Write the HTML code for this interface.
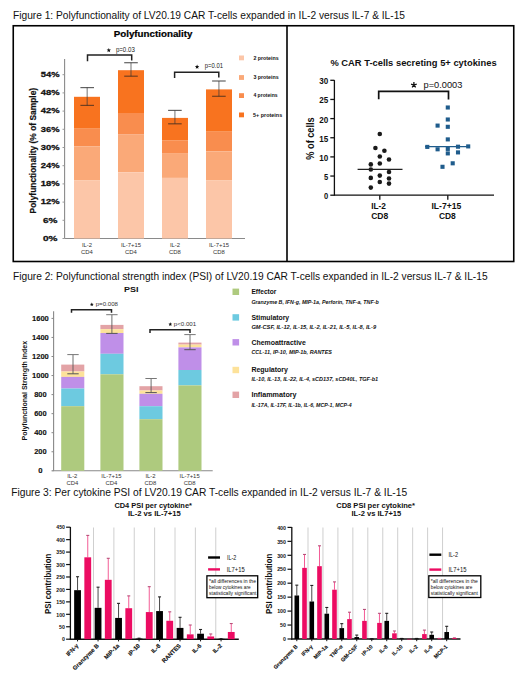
<!DOCTYPE html>
<html><head><meta charset="utf-8"><title>Figures</title>
<style>
html,body{margin:0;padding:0;background:#fff;}
body{width:520px;height:685px;overflow:hidden;font-family:"Liberation Sans", sans-serif;}
svg{display:block;}
svg text{font-family:"Liberation Sans", sans-serif;}
</style></head><body>
<svg width="520" height="685" viewBox="0 0 520 685" shape-rendering="auto">
<rect width="520" height="685" fill="#fff"/>
<text x="13" y="18.7" font-size="10.2" font-weight="normal" text-anchor="start" fill="#111" textLength="392" lengthAdjust="spacingAndGlyphs">Figure 1: Polyfunctionality of LV20.19 CAR T-cells expanded in IL-2 versus IL-7 &amp; IL-15</text>
<text x="13" y="279.6" font-size="10.2" font-weight="normal" text-anchor="start" fill="#111" textLength="474.6" lengthAdjust="spacingAndGlyphs">Figure 2: Polyfunctional strength index (PSI) of LV20.19 CAR T-cells expanded in IL-2 versus IL-7 &amp; IL-15</text>
<text x="11.2" y="495.7" font-size="10.2" font-weight="normal" text-anchor="start" fill="#111" textLength="396" lengthAdjust="spacingAndGlyphs">Figure 3: Per cytokine PSI of LV20.19 CAR T-cells expanded in IL-2 versus IL-7 &amp; IL-15</text>
<rect x="13.25" y="25.75" width="500.5" height="235.75" fill="none" stroke="#000" stroke-width="1.6"/>
<line x1="287.00" y1="25.75" x2="287.00" y2="261.50" stroke="#000" stroke-width="1.6"/>
<text x="113.7" y="37.2" font-size="9.4" font-weight="bold" text-anchor="start" fill="#000" textLength="78.8" lengthAdjust="spacingAndGlyphs" stroke="#000" stroke-width="0.2">Polyfunctionality</text>
<line x1="64.60" y1="59.00" x2="64.60" y2="238.50" stroke="#8a8a8a" stroke-width="1.1"/>
<line x1="64.60" y1="238.50" x2="245.00" y2="238.50" stroke="#8a8a8a" stroke-width="1.1"/>
<line x1="62.50" y1="238.50" x2="64.60" y2="238.50" stroke="#999" stroke-width="1"/>
<text x="50.2" y="240.7" font-size="8.1" font-weight="bold" text-anchor="middle" fill="#111" textLength="14.5" lengthAdjust="spacingAndGlyphs" stroke="#111" stroke-width="0.3">0%</text>
<line x1="62.50" y1="220.30" x2="64.60" y2="220.30" stroke="#999" stroke-width="1"/>
<text x="50.2" y="222.5" font-size="8.1" font-weight="bold" text-anchor="middle" fill="#111" textLength="14.5" lengthAdjust="spacingAndGlyphs" stroke="#111" stroke-width="0.3">6%</text>
<line x1="62.50" y1="202.10" x2="64.60" y2="202.10" stroke="#999" stroke-width="1"/>
<text x="50.2" y="204.29999999999998" font-size="8.1" font-weight="bold" text-anchor="middle" fill="#111" textLength="18.8" lengthAdjust="spacingAndGlyphs" stroke="#111" stroke-width="0.3">12%</text>
<line x1="62.50" y1="183.90" x2="64.60" y2="183.90" stroke="#999" stroke-width="1"/>
<text x="50.2" y="186.1" font-size="8.1" font-weight="bold" text-anchor="middle" fill="#111" textLength="18.8" lengthAdjust="spacingAndGlyphs" stroke="#111" stroke-width="0.3">18%</text>
<line x1="62.50" y1="165.70" x2="64.60" y2="165.70" stroke="#999" stroke-width="1"/>
<text x="50.2" y="167.89999999999998" font-size="8.1" font-weight="bold" text-anchor="middle" fill="#111" textLength="18.8" lengthAdjust="spacingAndGlyphs" stroke="#111" stroke-width="0.3">24%</text>
<line x1="62.50" y1="147.50" x2="64.60" y2="147.50" stroke="#999" stroke-width="1"/>
<text x="50.2" y="149.7" font-size="8.1" font-weight="bold" text-anchor="middle" fill="#111" textLength="18.8" lengthAdjust="spacingAndGlyphs" stroke="#111" stroke-width="0.3">30%</text>
<line x1="62.50" y1="129.30" x2="64.60" y2="129.30" stroke="#999" stroke-width="1"/>
<text x="50.2" y="131.5" font-size="8.1" font-weight="bold" text-anchor="middle" fill="#111" textLength="18.8" lengthAdjust="spacingAndGlyphs" stroke="#111" stroke-width="0.3">36%</text>
<line x1="62.50" y1="111.10" x2="64.60" y2="111.10" stroke="#999" stroke-width="1"/>
<text x="50.2" y="113.30000000000001" font-size="8.1" font-weight="bold" text-anchor="middle" fill="#111" textLength="18.8" lengthAdjust="spacingAndGlyphs" stroke="#111" stroke-width="0.3">42%</text>
<line x1="62.50" y1="92.90" x2="64.60" y2="92.90" stroke="#999" stroke-width="1"/>
<text x="50.2" y="95.10000000000001" font-size="8.1" font-weight="bold" text-anchor="middle" fill="#111" textLength="18.8" lengthAdjust="spacingAndGlyphs" stroke="#111" stroke-width="0.3">48%</text>
<line x1="62.50" y1="74.70" x2="64.60" y2="74.70" stroke="#999" stroke-width="1"/>
<text x="50.2" y="76.90000000000002" font-size="8.1" font-weight="bold" text-anchor="middle" fill="#111" textLength="18.8" lengthAdjust="spacingAndGlyphs" stroke="#111" stroke-width="0.3">54%</text>
<text transform="translate(35.8,213.4) rotate(-90)" font-size="9" font-weight="bold" fill="#111" stroke="#111" stroke-width="0.2" textLength="125.5" lengthAdjust="spacingAndGlyphs">Polyfunctionality (% of Sample)</text>
<rect x="74.00" y="96.80" width="26.00" height="31.90" fill="#F8731F"/>
<rect x="74.00" y="128.70" width="26.00" height="17.60" fill="#F98D4E"/>
<rect x="74.00" y="146.30" width="26.00" height="34.20" fill="#FAA978"/>
<rect x="74.00" y="180.50" width="26.00" height="58.00" fill="#FCC6A8"/>
<rect x="118.00" y="70.20" width="26.00" height="42.80" fill="#F8731F"/>
<rect x="118.00" y="113.00" width="26.00" height="21.60" fill="#F98D4E"/>
<rect x="118.00" y="134.60" width="26.00" height="37.70" fill="#FAA978"/>
<rect x="118.00" y="172.30" width="26.00" height="66.20" fill="#FCC6A8"/>
<rect x="162.00" y="117.90" width="26.00" height="22.30" fill="#F8731F"/>
<rect x="162.00" y="140.20" width="26.00" height="13.50" fill="#F98D4E"/>
<rect x="162.00" y="153.70" width="26.00" height="24.20" fill="#FAA978"/>
<rect x="162.00" y="177.90" width="26.00" height="60.60" fill="#FCC6A8"/>
<rect x="206.00" y="89.40" width="26.00" height="42.30" fill="#F8731F"/>
<rect x="206.00" y="131.70" width="26.00" height="19.70" fill="#F98D4E"/>
<rect x="206.00" y="151.40" width="26.00" height="29.10" fill="#FAA978"/>
<rect x="206.00" y="180.50" width="26.00" height="58.00" fill="#FCC6A8"/>
<line x1="87.20" y1="87.60" x2="87.20" y2="105.40" stroke="#3a3a3a" stroke-width="1.3" stroke-opacity="0.55"/>
<line x1="80.40" y1="87.60" x2="94.00" y2="87.60" stroke="#3a3a3a" stroke-width="1.2" stroke-opacity="0.8"/>
<line x1="80.40" y1="105.40" x2="94.00" y2="105.40" stroke="#3a2a20" stroke-width="1.2" stroke-opacity="0.7"/>
<line x1="131.00" y1="62.70" x2="131.00" y2="76.20" stroke="#3a3a3a" stroke-width="1.3" stroke-opacity="0.55"/>
<line x1="124.20" y1="62.70" x2="137.80" y2="62.70" stroke="#3a3a3a" stroke-width="1.2" stroke-opacity="0.8"/>
<line x1="124.20" y1="76.20" x2="137.80" y2="76.20" stroke="#3a2a20" stroke-width="1.2" stroke-opacity="0.7"/>
<line x1="174.90" y1="110.40" x2="174.90" y2="123.80" stroke="#3a3a3a" stroke-width="1.3" stroke-opacity="0.55"/>
<line x1="168.10" y1="110.40" x2="181.70" y2="110.40" stroke="#3a3a3a" stroke-width="1.2" stroke-opacity="0.8"/>
<line x1="168.10" y1="123.80" x2="181.70" y2="123.80" stroke="#3a2a20" stroke-width="1.2" stroke-opacity="0.7"/>
<line x1="218.90" y1="81.00" x2="218.90" y2="96.30" stroke="#3a3a3a" stroke-width="1.3" stroke-opacity="0.55"/>
<line x1="212.10" y1="81.00" x2="225.70" y2="81.00" stroke="#3a3a3a" stroke-width="1.2" stroke-opacity="0.8"/>
<line x1="212.10" y1="96.30" x2="225.70" y2="96.30" stroke="#3a2a20" stroke-width="1.2" stroke-opacity="0.7"/>
<path d="M87.5,61.2 V55 H131.7 V60.5" fill="none" stroke="#222" stroke-width="1.5"/>
<path d="M174.6,78 V72.3 H218.8 V77.6" fill="none" stroke="#222" stroke-width="1.5"/>
<polygon points="108.80,48.00 109.41,49.46 110.99,49.59 109.78,50.62 110.15,52.16 108.80,51.33 107.45,52.16 107.82,50.62 106.61,49.59 108.19,49.46" fill="#111"/>
<text x="115.9" y="51.6" font-size="6.9" font-weight="normal" text-anchor="start" fill="#222" textLength="18.9" lengthAdjust="spacingAndGlyphs">p=0.03</text>
<polygon points="197.10,64.60 197.71,66.06 199.29,66.19 198.08,67.22 198.45,68.76 197.10,67.94 195.75,68.76 196.12,67.22 194.91,66.19 196.49,66.06" fill="#111"/>
<text x="204.8" y="68.3" font-size="6.9" font-weight="normal" text-anchor="start" fill="#222" textLength="18.2" lengthAdjust="spacingAndGlyphs">p=0.01</text>
<rect x="239.00" y="55.50" width="5.00" height="4.80" fill="#FCC6A8"/>
<text x="253.4" y="59.699999999999996" font-size="5.3" font-weight="bold" text-anchor="start" fill="#111" textLength="25.3" lengthAdjust="spacingAndGlyphs">2 proteins</text>
<rect x="239.00" y="75.10" width="5.00" height="4.80" fill="#FAA978"/>
<text x="253.4" y="79.3" font-size="5.3" font-weight="bold" text-anchor="start" fill="#111" textLength="25.3" lengthAdjust="spacingAndGlyphs">3 proteins</text>
<rect x="239.00" y="93.20" width="5.00" height="4.80" fill="#F98D4E"/>
<text x="253.4" y="97.39999999999999" font-size="5.3" font-weight="bold" text-anchor="start" fill="#111" textLength="24.2" lengthAdjust="spacingAndGlyphs">4 proteins</text>
<rect x="239.00" y="112.50" width="5.00" height="4.80" fill="#F8731F"/>
<text x="253.1" y="116.7" font-size="5.3" font-weight="bold" text-anchor="start" fill="#111" textLength="29.1" lengthAdjust="spacingAndGlyphs">5+ proteins</text>
<text x="87" y="246.7" font-size="5.9" font-weight="normal" text-anchor="middle" fill="#333">IL-2</text>
<text x="87" y="254.0" font-size="5.9" font-weight="normal" text-anchor="middle" fill="#333">CD4</text>
<text x="131" y="246.7" font-size="5.9" font-weight="normal" text-anchor="middle" fill="#333">IL-7+15</text>
<text x="131" y="254.0" font-size="5.9" font-weight="normal" text-anchor="middle" fill="#333">CD4</text>
<text x="175" y="246.7" font-size="5.9" font-weight="normal" text-anchor="middle" fill="#333">IL-2</text>
<text x="175" y="254.0" font-size="5.9" font-weight="normal" text-anchor="middle" fill="#333">CD8</text>
<text x="219" y="246.7" font-size="5.9" font-weight="normal" text-anchor="middle" fill="#333">IL-7+15</text>
<text x="219" y="254.0" font-size="5.9" font-weight="normal" text-anchor="middle" fill="#333">CD8</text>
<text x="330.4" y="66.4" font-size="9.45" font-weight="bold" text-anchor="start" fill="#111" textLength="166.2" lengthAdjust="spacingAndGlyphs">% CAR T-cells secreting 5+ cytokines</text>
<line x1="334.40" y1="80.10" x2="334.40" y2="195.80" stroke="#111" stroke-width="1.3"/>
<line x1="334.40" y1="195.20" x2="494.00" y2="195.20" stroke="#111" stroke-width="1.3"/>
<line x1="330.30" y1="195.20" x2="334.40" y2="195.20" stroke="#111" stroke-width="1.3"/>
<text x="328.2" y="199.2" font-size="8.3" font-weight="bold" text-anchor="end" fill="#111" textLength="4.2" lengthAdjust="spacingAndGlyphs">0</text>
<line x1="330.30" y1="176.05" x2="334.40" y2="176.05" stroke="#111" stroke-width="1.3"/>
<text x="328.2" y="180.04999999999998" font-size="8.3" font-weight="bold" text-anchor="end" fill="#111" textLength="4.2" lengthAdjust="spacingAndGlyphs">5</text>
<line x1="330.30" y1="156.90" x2="334.40" y2="156.90" stroke="#111" stroke-width="1.3"/>
<text x="328.2" y="160.89999999999998" font-size="8.3" font-weight="bold" text-anchor="end" fill="#111" textLength="9.0" lengthAdjust="spacingAndGlyphs">10</text>
<line x1="330.30" y1="137.75" x2="334.40" y2="137.75" stroke="#111" stroke-width="1.3"/>
<text x="328.2" y="141.75" font-size="8.3" font-weight="bold" text-anchor="end" fill="#111" textLength="9.0" lengthAdjust="spacingAndGlyphs">15</text>
<line x1="330.30" y1="118.60" x2="334.40" y2="118.60" stroke="#111" stroke-width="1.3"/>
<text x="328.2" y="122.6" font-size="8.3" font-weight="bold" text-anchor="end" fill="#111" textLength="9.0" lengthAdjust="spacingAndGlyphs">20</text>
<line x1="330.30" y1="99.45" x2="334.40" y2="99.45" stroke="#111" stroke-width="1.3"/>
<text x="328.2" y="103.45" font-size="8.3" font-weight="bold" text-anchor="end" fill="#111" textLength="9.0" lengthAdjust="spacingAndGlyphs">25</text>
<line x1="330.30" y1="80.30" x2="334.40" y2="80.30" stroke="#111" stroke-width="1.3"/>
<text x="328.2" y="84.3" font-size="8.3" font-weight="bold" text-anchor="end" fill="#111" textLength="9.0" lengthAdjust="spacingAndGlyphs">30</text>
<line x1="379.80" y1="195.20" x2="379.80" y2="199.80" stroke="#111" stroke-width="1.3"/>
<line x1="447.80" y1="195.20" x2="447.80" y2="199.80" stroke="#111" stroke-width="1.3"/>
<text transform="translate(313.7,159.7) rotate(-90)" font-size="10.2" font-weight="bold" fill="#111" textLength="42.4" lengthAdjust="spacingAndGlyphs">% of cells</text>
<text x="378.6" y="208.6" font-size="8.6" font-weight="bold" text-anchor="middle" fill="#111" textLength="14.8" lengthAdjust="spacingAndGlyphs">IL-2</text>
<text x="379.75" y="218.5" font-size="8.6" font-weight="bold" text-anchor="middle" fill="#111" textLength="17.1" lengthAdjust="spacingAndGlyphs">CD8</text>
<text x="446.35" y="208.9" font-size="8.6" font-weight="bold" text-anchor="middle" fill="#111" textLength="29.7" lengthAdjust="spacingAndGlyphs">IL-7+15</text>
<text x="447.35" y="218.5" font-size="8.6" font-weight="bold" text-anchor="middle" fill="#111" textLength="16.9" lengthAdjust="spacingAndGlyphs">CD8</text>
<path d="M378.7,99.3 V91.4 H448.5 V99.5" fill="none" stroke="#111" stroke-width="1.7"/>
<path d="M413.90,85.00 L413.90,82.00 M413.90,85.00 L416.75,84.07 M413.90,85.00 L415.66,87.43 M413.90,85.00 L412.14,87.43 M413.90,85.00 L411.05,84.07 " stroke="#111" stroke-width="1.3" stroke-linecap="butt" fill="none"/>
<text x="423.5" y="87.9" font-size="9.9" font-weight="normal" text-anchor="start" fill="#111" textLength="38.8" lengthAdjust="spacingAndGlyphs">p=0.0003</text>
<circle cx="379.8" cy="134.0" r="2.3" fill="#1a1a1a"/>
<circle cx="375.4" cy="148.0" r="2.3" fill="#1a1a1a"/>
<circle cx="384.4" cy="150.8" r="2.3" fill="#1a1a1a"/>
<circle cx="379.8" cy="156.5" r="2.3" fill="#1a1a1a"/>
<circle cx="389.0" cy="159.5" r="2.3" fill="#1a1a1a"/>
<circle cx="370.8" cy="164.4" r="2.3" fill="#1a1a1a"/>
<circle cx="379.8" cy="163.5" r="2.3" fill="#1a1a1a"/>
<circle cx="370.8" cy="169.5" r="2.3" fill="#1a1a1a"/>
<circle cx="389.0" cy="172.0" r="2.3" fill="#1a1a1a"/>
<circle cx="370.8" cy="177.9" r="2.3" fill="#1a1a1a"/>
<circle cx="379.8" cy="175.6" r="2.3" fill="#1a1a1a"/>
<circle cx="389.0" cy="178.5" r="2.3" fill="#1a1a1a"/>
<circle cx="379.8" cy="182.0" r="2.3" fill="#1a1a1a"/>
<circle cx="389.0" cy="183.6" r="2.3" fill="#1a1a1a"/>
<circle cx="370.8" cy="187.6" r="2.3" fill="#1a1a1a"/>
<line x1="357.60" y1="169.40" x2="402.50" y2="169.40" stroke="#222" stroke-width="1.2"/>
<rect x="445.75" y="105.45" width="4.10" height="4.10" fill="#1F5C8C"/>
<rect x="445.75" y="117.45" width="4.10" height="4.10" fill="#1F5C8C"/>
<rect x="435.55" y="123.55" width="4.10" height="4.10" fill="#1F5C8C"/>
<rect x="445.75" y="124.75" width="4.10" height="4.10" fill="#1F5C8C"/>
<rect x="445.75" y="137.35" width="4.10" height="4.10" fill="#1F5C8C"/>
<rect x="425.25" y="144.85" width="4.10" height="4.10" fill="#1F5C8C"/>
<rect x="435.55" y="147.25" width="4.10" height="4.10" fill="#1F5C8C"/>
<rect x="445.75" y="146.85" width="4.10" height="4.10" fill="#1F5C8C"/>
<rect x="455.95" y="144.65" width="4.10" height="4.10" fill="#1F5C8C"/>
<rect x="466.15" y="144.35" width="4.10" height="4.10" fill="#1F5C8C"/>
<rect x="445.75" y="151.35" width="4.10" height="4.10" fill="#1F5C8C"/>
<rect x="455.95" y="150.35" width="4.10" height="4.10" fill="#1F5C8C"/>
<rect x="450.65" y="161.25" width="4.10" height="4.10" fill="#1F5C8C"/>
<rect x="440.45" y="164.75" width="4.10" height="4.10" fill="#1F5C8C"/>
<line x1="425.00" y1="146.60" x2="470.00" y2="146.60" stroke="#1F5C8C" stroke-width="1.2"/>
<text x="124" y="291.9" font-size="7.6" font-weight="bold" text-anchor="start" fill="#111" textLength="14.5" lengthAdjust="spacingAndGlyphs">PSI</text>
<line x1="53.60" y1="311.30" x2="53.60" y2="470.80" stroke="#888" stroke-width="1.1"/>
<line x1="52.50" y1="470.80" x2="212.70" y2="470.80" stroke="#888" stroke-width="1.1"/>
<line x1="51.50" y1="470.80" x2="53.60" y2="470.80" stroke="#888" stroke-width="1"/>
<text x="40.4" y="473.3" font-size="7.3" font-weight="bold" text-anchor="middle" fill="#111" textLength="4.3" lengthAdjust="spacingAndGlyphs" stroke="#111" stroke-width="0.12">0</text>
<line x1="51.50" y1="451.75" x2="53.60" y2="451.75" stroke="#888" stroke-width="1"/>
<text x="40.4" y="454.25" font-size="7.3" font-weight="bold" text-anchor="middle" fill="#111" textLength="12.5" lengthAdjust="spacingAndGlyphs" stroke="#111" stroke-width="0.12">200</text>
<line x1="51.50" y1="432.70" x2="53.60" y2="432.70" stroke="#888" stroke-width="1"/>
<text x="40.4" y="435.2" font-size="7.3" font-weight="bold" text-anchor="middle" fill="#111" textLength="12.5" lengthAdjust="spacingAndGlyphs" stroke="#111" stroke-width="0.12">400</text>
<line x1="51.50" y1="413.65" x2="53.60" y2="413.65" stroke="#888" stroke-width="1"/>
<text x="40.4" y="416.15000000000003" font-size="7.3" font-weight="bold" text-anchor="middle" fill="#111" textLength="12.5" lengthAdjust="spacingAndGlyphs" stroke="#111" stroke-width="0.12">600</text>
<line x1="51.50" y1="394.60" x2="53.60" y2="394.60" stroke="#888" stroke-width="1"/>
<text x="40.4" y="397.1" font-size="7.3" font-weight="bold" text-anchor="middle" fill="#111" textLength="12.5" lengthAdjust="spacingAndGlyphs" stroke="#111" stroke-width="0.12">800</text>
<line x1="51.50" y1="375.55" x2="53.60" y2="375.55" stroke="#888" stroke-width="1"/>
<text x="40.4" y="378.05" font-size="7.3" font-weight="bold" text-anchor="middle" fill="#111" textLength="16.8" lengthAdjust="spacingAndGlyphs" stroke="#111" stroke-width="0.12">1000</text>
<line x1="51.50" y1="356.50" x2="53.60" y2="356.50" stroke="#888" stroke-width="1"/>
<text x="40.4" y="359.0" font-size="7.3" font-weight="bold" text-anchor="middle" fill="#111" textLength="16.8" lengthAdjust="spacingAndGlyphs" stroke="#111" stroke-width="0.12">1200</text>
<line x1="51.50" y1="337.45" x2="53.60" y2="337.45" stroke="#888" stroke-width="1"/>
<text x="40.4" y="339.95000000000005" font-size="7.3" font-weight="bold" text-anchor="middle" fill="#111" textLength="16.8" lengthAdjust="spacingAndGlyphs" stroke="#111" stroke-width="0.12">1400</text>
<line x1="51.50" y1="318.40" x2="53.60" y2="318.40" stroke="#888" stroke-width="1"/>
<text x="40.4" y="320.9" font-size="7.3" font-weight="bold" text-anchor="middle" fill="#111" textLength="16.8" lengthAdjust="spacingAndGlyphs" stroke="#111" stroke-width="0.12">1600</text>
<text transform="translate(26.9,440.5) rotate(-90)" font-size="7.9" font-weight="bold" fill="#111" textLength="99.6" lengthAdjust="spacingAndGlyphs">Polyfunctional Strength Index</text>
<rect x="61.20" y="364.60" width="23.10" height="6.90" fill="#E3A3A6"/>
<rect x="61.20" y="371.50" width="23.10" height="5.40" fill="#FDE29A"/>
<rect x="61.20" y="376.90" width="23.10" height="11.60" fill="#BF8FE8"/>
<rect x="61.20" y="388.50" width="23.10" height="17.70" fill="#6DCAE0"/>
<rect x="61.20" y="406.20" width="23.10" height="64.60" fill="#AECA7E"/>
<rect x="100.40" y="324.90" width="23.10" height="4.30" fill="#E3A3A6"/>
<rect x="100.40" y="329.20" width="23.10" height="3.80" fill="#FDE29A"/>
<rect x="100.40" y="333.00" width="23.10" height="20.80" fill="#BF8FE8"/>
<rect x="100.40" y="353.80" width="23.10" height="20.50" fill="#6DCAE0"/>
<rect x="100.40" y="374.30" width="23.10" height="96.50" fill="#AECA7E"/>
<rect x="139.40" y="386.20" width="23.10" height="4.30" fill="#E3A3A6"/>
<rect x="139.40" y="390.50" width="23.10" height="3.30" fill="#FDE29A"/>
<rect x="139.40" y="393.80" width="23.10" height="12.40" fill="#BF8FE8"/>
<rect x="139.40" y="406.20" width="23.10" height="13.00" fill="#6DCAE0"/>
<rect x="139.40" y="419.20" width="23.10" height="51.60" fill="#AECA7E"/>
<rect x="178.40" y="342.60" width="23.10" height="2.00" fill="#E3A3A6"/>
<rect x="178.40" y="344.60" width="23.10" height="2.80" fill="#FDE29A"/>
<rect x="178.40" y="347.40" width="23.10" height="22.60" fill="#BF8FE8"/>
<rect x="178.40" y="370.00" width="23.10" height="15.40" fill="#6DCAE0"/>
<rect x="178.40" y="385.40" width="23.10" height="85.40" fill="#AECA7E"/>
<line x1="73.00" y1="354.60" x2="73.00" y2="373.80" stroke="#555" stroke-width="1" stroke-opacity="0.85"/>
<line x1="67.30" y1="354.60" x2="78.70" y2="354.60" stroke="#777" stroke-width="1"/>
<line x1="67.30" y1="373.80" x2="78.70" y2="373.80" stroke="#555" stroke-width="1"/>
<line x1="111.90" y1="314.70" x2="111.90" y2="333.40" stroke="#555" stroke-width="1" stroke-opacity="0.85"/>
<line x1="106.20" y1="314.70" x2="117.60" y2="314.70" stroke="#777" stroke-width="1"/>
<line x1="106.20" y1="333.40" x2="117.60" y2="333.40" stroke="#555" stroke-width="1"/>
<line x1="151.10" y1="378.50" x2="151.10" y2="392.60" stroke="#555" stroke-width="1" stroke-opacity="0.85"/>
<line x1="145.40" y1="378.50" x2="156.80" y2="378.50" stroke="#777" stroke-width="1"/>
<line x1="145.40" y1="392.60" x2="156.80" y2="392.60" stroke="#555" stroke-width="1"/>
<line x1="190.00" y1="334.60" x2="190.00" y2="349.70" stroke="#555" stroke-width="1" stroke-opacity="0.85"/>
<line x1="184.30" y1="334.60" x2="195.70" y2="334.60" stroke="#777" stroke-width="1"/>
<line x1="184.30" y1="349.70" x2="195.70" y2="349.70" stroke="#555" stroke-width="1"/>
<path d="M71.5,312.7 V309.8 H111.5 V312.7" fill="none" stroke="#222" stroke-width="1.5"/>
<path d="M150,333 V329.7 H190 V333" fill="none" stroke="#222" stroke-width="1.5"/>
<polygon points="91.80,302.50 92.33,303.77 93.70,303.88 92.66,304.78 92.98,306.12 91.80,305.40 90.62,306.12 90.94,304.78 89.90,303.88 91.27,303.77" fill="#111"/>
<text x="95.7" y="305.6" font-size="6.1" font-weight="normal" text-anchor="start" fill="#333" textLength="22.3" lengthAdjust="spacingAndGlyphs">p=0.008</text>
<polygon points="170.30,322.30 170.83,323.57 172.20,323.68 171.16,324.58 171.48,325.92 170.30,325.20 169.12,325.92 169.44,324.58 168.40,323.68 169.77,323.57" fill="#111"/>
<text x="173.8" y="325.6" font-size="6.1" font-weight="normal" text-anchor="start" fill="#333" textLength="22.4" lengthAdjust="spacingAndGlyphs">p&lt;0.001</text>
<text x="72.3" y="478.2" font-size="5.9" font-weight="normal" text-anchor="middle" fill="#333">IL-2</text>
<text x="72.3" y="484.8" font-size="5.9" font-weight="normal" text-anchor="middle" fill="#333">CD4</text>
<text x="111.4" y="478.2" font-size="5.9" font-weight="normal" text-anchor="middle" fill="#333">IL-7+15</text>
<text x="111.4" y="484.8" font-size="5.9" font-weight="normal" text-anchor="middle" fill="#333">CD4</text>
<text x="150.5" y="478.2" font-size="5.9" font-weight="normal" text-anchor="middle" fill="#333">IL-2</text>
<text x="150.5" y="484.8" font-size="5.9" font-weight="normal" text-anchor="middle" fill="#333">CD8</text>
<text x="189.60000000000002" y="478.2" font-size="5.9" font-weight="normal" text-anchor="middle" fill="#333">IL-7+15</text>
<text x="189.60000000000002" y="484.8" font-size="5.9" font-weight="normal" text-anchor="middle" fill="#333">CD8</text>
<rect x="232.50" y="288.60" width="6.60" height="6.40" fill="#AECA7E"/>
<text x="251.4" y="294.1" font-size="6.6" font-weight="bold" text-anchor="start" fill="#111" textLength="25" lengthAdjust="spacingAndGlyphs">Effector</text>
<text x="251.4" y="303.70000000000005" font-size="4.6" font-weight="bold" text-anchor="start" fill="#111" textLength="127.3" lengthAdjust="spacingAndGlyphs" font-style="italic">Granzyme B, IFN-g, MIP-1a, Perforin, TNF-a, TNF-b</text>
<rect x="232.50" y="314.20" width="6.60" height="6.40" fill="#6DCAE0"/>
<text x="251.4" y="319.7" font-size="6.6" font-weight="bold" text-anchor="start" fill="#111" textLength="37.8" lengthAdjust="spacingAndGlyphs">Stimulatory</text>
<text x="251.4" y="329.20000000000005" font-size="4.6" font-weight="bold" text-anchor="start" fill="#111" textLength="124.7" lengthAdjust="spacingAndGlyphs" font-style="italic">GM-CSF, IL-12, IL-15, IL-2, IL-21, IL-5, IL-8, IL-9</text>
<rect x="232.50" y="339.10" width="6.60" height="6.40" fill="#BF8FE8"/>
<text x="251.4" y="344.6" font-size="6.6" font-weight="bold" text-anchor="start" fill="#111" textLength="54.4" lengthAdjust="spacingAndGlyphs">Chemoattractive</text>
<text x="251.4" y="354.1" font-size="4.6" font-weight="bold" text-anchor="start" fill="#111" textLength="80.5" lengthAdjust="spacingAndGlyphs" font-style="italic">CCL-11, IP-10, MIP-1b, RANTES</text>
<rect x="232.50" y="366.80" width="6.60" height="6.40" fill="#FDE29A"/>
<text x="251.4" y="372.3" font-size="6.6" font-weight="bold" text-anchor="start" fill="#111" textLength="36.6" lengthAdjust="spacingAndGlyphs">Regulatory</text>
<text x="251.4" y="380.90000000000003" font-size="4.6" font-weight="bold" text-anchor="start" fill="#111" textLength="126.8" lengthAdjust="spacingAndGlyphs" font-style="italic">IL-10, IL-13, IL-22, IL-4, sCD137, sCD40L, TGF-b1</text>
<rect x="232.50" y="391.60" width="6.60" height="6.40" fill="#E3A3A6"/>
<text x="251.4" y="397.1" font-size="6.6" font-weight="bold" text-anchor="start" fill="#111" textLength="45.2" lengthAdjust="spacingAndGlyphs">Inflammatory</text>
<text x="251.4" y="406.6" font-size="4.6" font-weight="bold" text-anchor="start" fill="#111" textLength="100.3" lengthAdjust="spacingAndGlyphs" font-style="italic">IL-17A, IL-17F, IL-1b, IL-6, MCP-1, MCP-4</text>
<text x="114.4" y="507.5" font-size="6.8" font-weight="bold" text-anchor="start" fill="#111" textLength="77.5" lengthAdjust="spacingAndGlyphs">CD4 PSI per cytokine*</text>
<text x="127.9" y="516.2" font-size="6.8" font-weight="bold" text-anchor="start" fill="#111" textLength="52.9" lengthAdjust="spacingAndGlyphs">IL-2 vs IL-7+15</text>
<line x1="93.50" y1="527.50" x2="93.50" y2="639.20" stroke="#c9c9c9" stroke-width="0.9"/>
<line x1="113.88" y1="527.50" x2="113.88" y2="639.20" stroke="#c9c9c9" stroke-width="0.9"/>
<line x1="134.26" y1="527.50" x2="134.26" y2="639.20" stroke="#c9c9c9" stroke-width="0.9"/>
<line x1="154.64" y1="527.50" x2="154.64" y2="639.20" stroke="#c9c9c9" stroke-width="0.9"/>
<line x1="175.02" y1="527.50" x2="175.02" y2="639.20" stroke="#c9c9c9" stroke-width="0.9"/>
<line x1="195.40" y1="527.50" x2="195.40" y2="639.20" stroke="#c9c9c9" stroke-width="0.9"/>
<line x1="215.78" y1="527.50" x2="215.78" y2="639.20" stroke="#c9c9c9" stroke-width="0.9"/>
<line x1="70.40" y1="527.00" x2="70.40" y2="639.90" stroke="#111" stroke-width="1.3"/>
<line x1="69.80" y1="639.20" x2="238.80" y2="639.20" stroke="#111" stroke-width="1.5"/>
<line x1="66.10" y1="639.20" x2="70.40" y2="639.20" stroke="#111" stroke-width="1.2"/>
<text x="64.9" y="641.4000000000001" font-size="5.3" font-weight="bold" text-anchor="end" fill="#111" textLength="2.9" lengthAdjust="spacingAndGlyphs">0</text>
<line x1="66.10" y1="626.75" x2="70.40" y2="626.75" stroke="#111" stroke-width="1.2"/>
<text x="64.9" y="628.955" font-size="5.3" font-weight="bold" text-anchor="end" fill="#111" textLength="5.8" lengthAdjust="spacingAndGlyphs">50</text>
<line x1="66.10" y1="614.31" x2="70.40" y2="614.31" stroke="#111" stroke-width="1.2"/>
<text x="64.9" y="616.5100000000001" font-size="5.3" font-weight="bold" text-anchor="end" fill="#111" textLength="8.6" lengthAdjust="spacingAndGlyphs">100</text>
<line x1="66.10" y1="601.87" x2="70.40" y2="601.87" stroke="#111" stroke-width="1.2"/>
<text x="64.9" y="604.065" font-size="5.3" font-weight="bold" text-anchor="end" fill="#111" textLength="8.6" lengthAdjust="spacingAndGlyphs">150</text>
<line x1="66.10" y1="589.42" x2="70.40" y2="589.42" stroke="#111" stroke-width="1.2"/>
<text x="64.9" y="591.6200000000001" font-size="5.3" font-weight="bold" text-anchor="end" fill="#111" textLength="8.6" lengthAdjust="spacingAndGlyphs">200</text>
<line x1="66.10" y1="576.98" x2="70.40" y2="576.98" stroke="#111" stroke-width="1.2"/>
<text x="64.9" y="579.1750000000001" font-size="5.3" font-weight="bold" text-anchor="end" fill="#111" textLength="8.6" lengthAdjust="spacingAndGlyphs">250</text>
<line x1="66.10" y1="564.53" x2="70.40" y2="564.53" stroke="#111" stroke-width="1.2"/>
<text x="64.9" y="566.7300000000001" font-size="5.3" font-weight="bold" text-anchor="end" fill="#111" textLength="8.6" lengthAdjust="spacingAndGlyphs">300</text>
<line x1="66.10" y1="552.09" x2="70.40" y2="552.09" stroke="#111" stroke-width="1.2"/>
<text x="64.9" y="554.2850000000001" font-size="5.3" font-weight="bold" text-anchor="end" fill="#111" textLength="8.6" lengthAdjust="spacingAndGlyphs">350</text>
<line x1="66.10" y1="539.64" x2="70.40" y2="539.64" stroke="#111" stroke-width="1.2"/>
<text x="64.9" y="541.8400000000001" font-size="5.3" font-weight="bold" text-anchor="end" fill="#111" textLength="8.6" lengthAdjust="spacingAndGlyphs">400</text>
<line x1="66.10" y1="527.20" x2="70.40" y2="527.20" stroke="#111" stroke-width="1.2"/>
<text x="64.9" y="529.3950000000001" font-size="5.3" font-weight="bold" text-anchor="end" fill="#111" textLength="8.6" lengthAdjust="spacingAndGlyphs">450</text>
<text transform="translate(50.9,614) rotate(-90)" font-size="8.3" font-weight="bold" fill="#111" textLength="60.2" lengthAdjust="spacingAndGlyphs">PSI contribution</text>
<line x1="77.55" y1="576.73" x2="77.55" y2="590.17" stroke="#000" stroke-width="0.9" stroke-opacity="0.8"/>
<line x1="76.05" y1="576.73" x2="79.05" y2="576.73" stroke="#222" stroke-width="1.1"/>
<rect x="74.15" y="590.17" width="6.80" height="49.03" fill="#000"/>
<line x1="87.75" y1="535.41" x2="87.75" y2="557.31" stroke="#EC0C62" stroke-width="0.9" stroke-opacity="0.75"/>
<line x1="86.25" y1="535.41" x2="89.25" y2="535.41" stroke="#B8507A" stroke-width="1.1"/>
<rect x="84.35" y="557.31" width="6.80" height="81.89" fill="#EC0C62"/>
<line x1="98.05" y1="587.18" x2="98.05" y2="607.84" stroke="#000" stroke-width="0.9" stroke-opacity="0.8"/>
<line x1="96.55" y1="587.18" x2="99.55" y2="587.18" stroke="#222" stroke-width="1.1"/>
<rect x="94.65" y="607.84" width="6.80" height="31.36" fill="#000"/>
<line x1="108.25" y1="558.31" x2="108.25" y2="579.81" stroke="#EC0C62" stroke-width="0.9" stroke-opacity="0.75"/>
<line x1="106.75" y1="558.31" x2="109.75" y2="558.31" stroke="#B8507A" stroke-width="1.1"/>
<rect x="104.85" y="579.81" width="6.80" height="59.39" fill="#EC0C62"/>
<line x1="118.55" y1="603.36" x2="118.55" y2="617.92" stroke="#000" stroke-width="0.9" stroke-opacity="0.8"/>
<line x1="117.05" y1="603.36" x2="120.05" y2="603.36" stroke="#222" stroke-width="1.1"/>
<rect x="115.15" y="617.92" width="6.80" height="21.28" fill="#000"/>
<line x1="128.75" y1="595.89" x2="128.75" y2="608.21" stroke="#EC0C62" stroke-width="0.9" stroke-opacity="0.75"/>
<line x1="127.25" y1="595.89" x2="130.25" y2="595.89" stroke="#B8507A" stroke-width="1.1"/>
<rect x="125.35" y="608.21" width="6.80" height="30.99" fill="#EC0C62"/>
<line x1="139.05" y1="638.20" x2="139.05" y2="638.58" stroke="#000" stroke-width="0.9" stroke-opacity="0.8"/>
<line x1="137.55" y1="638.20" x2="140.55" y2="638.20" stroke="#222" stroke-width="1.1"/>
<rect x="135.65" y="638.58" width="6.80" height="0.62" fill="#000"/>
<line x1="149.25" y1="586.68" x2="149.25" y2="612.07" stroke="#EC0C62" stroke-width="0.9" stroke-opacity="0.75"/>
<line x1="147.75" y1="586.68" x2="150.75" y2="586.68" stroke="#B8507A" stroke-width="1.1"/>
<rect x="145.85" y="612.07" width="6.80" height="27.13" fill="#EC0C62"/>
<line x1="159.55" y1="596.89" x2="159.55" y2="611.07" stroke="#000" stroke-width="0.9" stroke-opacity="0.8"/>
<line x1="158.05" y1="596.89" x2="161.05" y2="596.89" stroke="#222" stroke-width="1.1"/>
<rect x="156.15" y="611.07" width="6.80" height="28.13" fill="#000"/>
<line x1="169.75" y1="611.82" x2="169.75" y2="620.78" stroke="#EC0C62" stroke-width="0.9" stroke-opacity="0.75"/>
<line x1="168.25" y1="611.82" x2="171.25" y2="611.82" stroke="#B8507A" stroke-width="1.1"/>
<rect x="166.35" y="620.78" width="6.80" height="18.42" fill="#EC0C62"/>
<line x1="180.05" y1="617.30" x2="180.05" y2="627.90" stroke="#000" stroke-width="0.9" stroke-opacity="0.8"/>
<line x1="178.55" y1="617.30" x2="181.55" y2="617.30" stroke="#222" stroke-width="1.1"/>
<rect x="176.65" y="627.90" width="6.80" height="11.30" fill="#000"/>
<line x1="190.25" y1="625.01" x2="190.25" y2="634.35" stroke="#EC0C62" stroke-width="0.9" stroke-opacity="0.75"/>
<line x1="188.75" y1="625.01" x2="191.75" y2="625.01" stroke="#B8507A" stroke-width="1.1"/>
<rect x="186.85" y="634.35" width="6.80" height="4.85" fill="#EC0C62"/>
<line x1="200.55" y1="629.49" x2="200.55" y2="633.72" stroke="#000" stroke-width="0.9" stroke-opacity="0.8"/>
<line x1="199.05" y1="629.49" x2="202.05" y2="629.49" stroke="#222" stroke-width="1.1"/>
<rect x="197.15" y="633.72" width="6.80" height="5.48" fill="#000"/>
<line x1="210.75" y1="633.97" x2="210.75" y2="636.46" stroke="#EC0C62" stroke-width="0.9" stroke-opacity="0.75"/>
<line x1="209.25" y1="633.97" x2="212.25" y2="633.97" stroke="#B8507A" stroke-width="1.1"/>
<rect x="207.35" y="636.46" width="6.80" height="2.74" fill="#EC0C62"/>
<line x1="221.05" y1="638.70" x2="221.05" y2="638.83" stroke="#000" stroke-width="0.9" stroke-opacity="0.8"/>
<line x1="219.55" y1="638.70" x2="222.55" y2="638.70" stroke="#222" stroke-width="1.1"/>
<rect x="217.65" y="638.83" width="6.80" height="0.60" fill="#000"/>
<line x1="231.25" y1="623.52" x2="231.25" y2="631.98" stroke="#EC0C62" stroke-width="0.9" stroke-opacity="0.75"/>
<line x1="229.75" y1="623.52" x2="232.75" y2="623.52" stroke="#B8507A" stroke-width="1.1"/>
<rect x="227.85" y="631.98" width="6.80" height="7.22" fill="#EC0C62"/>
<line x1="77.55" y1="639.20" x2="77.55" y2="641.40" stroke="#111" stroke-width="1"/>
<line x1="98.05" y1="639.20" x2="98.05" y2="641.40" stroke="#111" stroke-width="1"/>
<line x1="118.55" y1="639.20" x2="118.55" y2="641.40" stroke="#111" stroke-width="1"/>
<line x1="139.05" y1="639.20" x2="139.05" y2="641.40" stroke="#111" stroke-width="1"/>
<line x1="159.55" y1="639.20" x2="159.55" y2="641.40" stroke="#111" stroke-width="1"/>
<line x1="180.05" y1="639.20" x2="180.05" y2="641.40" stroke="#111" stroke-width="1"/>
<line x1="200.55" y1="639.20" x2="200.55" y2="641.40" stroke="#111" stroke-width="1"/>
<line x1="221.05" y1="639.20" x2="221.05" y2="641.40" stroke="#111" stroke-width="1"/>
<text transform="translate(78.85,646.2) rotate(-45)" font-size="5.9" font-weight="bold" text-anchor="end" fill="#111" stroke="#111" stroke-width="0.15">IFN-γ</text>
<text transform="translate(99.35,646.2) rotate(-45)" font-size="5.9" font-weight="bold" text-anchor="end" fill="#111" stroke="#111" stroke-width="0.15">Granzyme B</text>
<text transform="translate(119.85,646.2) rotate(-45)" font-size="5.9" font-weight="bold" text-anchor="end" fill="#111" stroke="#111" stroke-width="0.15">MIP-1a</text>
<text transform="translate(140.35,646.2) rotate(-45)" font-size="5.9" font-weight="bold" text-anchor="end" fill="#111" stroke="#111" stroke-width="0.15">IP-10</text>
<text transform="translate(160.85,646.2) rotate(-45)" font-size="5.9" font-weight="bold" text-anchor="end" fill="#111" stroke="#111" stroke-width="0.15">IL-8</text>
<text transform="translate(181.35,646.2) rotate(-45)" font-size="5.9" font-weight="bold" text-anchor="end" fill="#111" stroke="#111" stroke-width="0.15">RANTES</text>
<text transform="translate(201.85,646.2) rotate(-45)" font-size="5.9" font-weight="bold" text-anchor="end" fill="#111" stroke="#111" stroke-width="0.15">IL-6</text>
<text transform="translate(222.35,646.2) rotate(-45)" font-size="5.9" font-weight="bold" text-anchor="end" fill="#111" stroke="#111" stroke-width="0.15">IL-2</text>
<line x1="208.10" y1="557.50" x2="220.00" y2="557.50" stroke="#000" stroke-width="2.4"/>
<line x1="208.10" y1="569.40" x2="220.00" y2="569.40" stroke="#EC0C62" stroke-width="2.4"/>
<text x="226.9" y="560.2" font-size="6.3" font-weight="normal" text-anchor="start" fill="#111" textLength="9.3" lengthAdjust="spacingAndGlyphs">IL-2</text>
<text x="226.7" y="572.0" font-size="6.3" font-weight="normal" text-anchor="start" fill="#111" textLength="18.0" lengthAdjust="spacingAndGlyphs">IL7+15</text>
<rect x="206.9" y="575.8" width="50.8" height="21.9" fill="#fff" stroke="#000" stroke-width="1.3"/>
<text x="209.1" y="582.6" font-size="4.5" font-weight="normal" text-anchor="start" fill="#111" textLength="46.9" lengthAdjust="spacingAndGlyphs">*all differences in the</text>
<text x="209.1" y="588.7" font-size="4.5" font-weight="normal" text-anchor="start" fill="#111" textLength="41.5" lengthAdjust="spacingAndGlyphs">below cytokines are</text>
<text x="209.1" y="595.0" font-size="4.5" font-weight="normal" text-anchor="start" fill="#111" textLength="47.4" lengthAdjust="spacingAndGlyphs">statistically significant</text>
<text x="336.2" y="507.5" font-size="6.8" font-weight="bold" text-anchor="start" fill="#111" textLength="78.8" lengthAdjust="spacingAndGlyphs">CD8 PSI per cytokine*</text>
<text x="351.5" y="516.2" font-size="6.8" font-weight="bold" text-anchor="start" fill="#111" textLength="49.7" lengthAdjust="spacingAndGlyphs">IL-2 vs IL7+15</text>
<line x1="308.00" y1="527.50" x2="308.00" y2="639.00" stroke="#c9c9c9" stroke-width="0.9"/>
<line x1="322.95" y1="527.50" x2="322.95" y2="639.00" stroke="#c9c9c9" stroke-width="0.9"/>
<line x1="337.90" y1="527.50" x2="337.90" y2="639.00" stroke="#c9c9c9" stroke-width="0.9"/>
<line x1="352.85" y1="527.50" x2="352.85" y2="639.00" stroke="#c9c9c9" stroke-width="0.9"/>
<line x1="367.80" y1="527.50" x2="367.80" y2="639.00" stroke="#c9c9c9" stroke-width="0.9"/>
<line x1="382.75" y1="527.50" x2="382.75" y2="639.00" stroke="#c9c9c9" stroke-width="0.9"/>
<line x1="397.70" y1="527.50" x2="397.70" y2="639.00" stroke="#c9c9c9" stroke-width="0.9"/>
<line x1="412.65" y1="527.50" x2="412.65" y2="639.00" stroke="#c9c9c9" stroke-width="0.9"/>
<line x1="427.60" y1="527.50" x2="427.60" y2="639.00" stroke="#c9c9c9" stroke-width="0.9"/>
<line x1="442.55" y1="527.50" x2="442.55" y2="639.00" stroke="#c9c9c9" stroke-width="0.9"/>
<line x1="291.80" y1="527.00" x2="291.80" y2="639.70" stroke="#111" stroke-width="1.3"/>
<line x1="291.20" y1="639.00" x2="460.50" y2="639.00" stroke="#111" stroke-width="1.5"/>
<line x1="287.50" y1="639.00" x2="291.80" y2="639.00" stroke="#111" stroke-width="1.2"/>
<text x="286.0" y="641.2" font-size="5.3" font-weight="bold" text-anchor="end" fill="#111" textLength="2.9" lengthAdjust="spacingAndGlyphs">0</text>
<line x1="287.50" y1="625.05" x2="291.80" y2="625.05" stroke="#111" stroke-width="1.2"/>
<text x="286.0" y="627.25" font-size="5.3" font-weight="bold" text-anchor="end" fill="#111" textLength="5.9" lengthAdjust="spacingAndGlyphs">50</text>
<line x1="287.50" y1="611.10" x2="291.80" y2="611.10" stroke="#111" stroke-width="1.2"/>
<text x="286.0" y="613.3000000000001" font-size="5.3" font-weight="bold" text-anchor="end" fill="#111" textLength="8.8" lengthAdjust="spacingAndGlyphs">100</text>
<line x1="287.50" y1="597.15" x2="291.80" y2="597.15" stroke="#111" stroke-width="1.2"/>
<text x="286.0" y="599.35" font-size="5.3" font-weight="bold" text-anchor="end" fill="#111" textLength="8.8" lengthAdjust="spacingAndGlyphs">150</text>
<line x1="287.50" y1="583.20" x2="291.80" y2="583.20" stroke="#111" stroke-width="1.2"/>
<text x="286.0" y="585.4000000000001" font-size="5.3" font-weight="bold" text-anchor="end" fill="#111" textLength="8.8" lengthAdjust="spacingAndGlyphs">200</text>
<line x1="287.50" y1="569.25" x2="291.80" y2="569.25" stroke="#111" stroke-width="1.2"/>
<text x="286.0" y="571.45" font-size="5.3" font-weight="bold" text-anchor="end" fill="#111" textLength="8.8" lengthAdjust="spacingAndGlyphs">250</text>
<line x1="287.50" y1="555.30" x2="291.80" y2="555.30" stroke="#111" stroke-width="1.2"/>
<text x="286.0" y="557.5" font-size="5.3" font-weight="bold" text-anchor="end" fill="#111" textLength="8.8" lengthAdjust="spacingAndGlyphs">300</text>
<line x1="287.50" y1="541.35" x2="291.80" y2="541.35" stroke="#111" stroke-width="1.2"/>
<text x="286.0" y="543.5500000000001" font-size="5.3" font-weight="bold" text-anchor="end" fill="#111" textLength="8.8" lengthAdjust="spacingAndGlyphs">350</text>
<line x1="287.50" y1="527.40" x2="291.80" y2="527.40" stroke="#111" stroke-width="1.2"/>
<text x="286.0" y="529.6" font-size="5.3" font-weight="bold" text-anchor="end" fill="#111" textLength="8.8" lengthAdjust="spacingAndGlyphs">400</text>
<text transform="translate(272.1,614) rotate(-90)" font-size="8.3" font-weight="bold" fill="#111" textLength="60.2" lengthAdjust="spacingAndGlyphs">PSI contribution</text>
<line x1="296.80" y1="585.15" x2="296.80" y2="595.48" stroke="#000" stroke-width="0.9" stroke-opacity="0.8"/>
<line x1="295.30" y1="585.15" x2="298.30" y2="585.15" stroke="#222" stroke-width="1.1"/>
<rect x="294.50" y="595.48" width="4.60" height="43.52" fill="#000"/>
<line x1="304.50" y1="554.46" x2="304.50" y2="567.86" stroke="#EC0C62" stroke-width="0.9" stroke-opacity="0.75"/>
<line x1="303.00" y1="554.46" x2="306.00" y2="554.46" stroke="#B8507A" stroke-width="1.1"/>
<rect x="302.20" y="567.86" width="4.60" height="71.14" fill="#EC0C62"/>
<line x1="311.79" y1="585.43" x2="311.79" y2="601.50" stroke="#000" stroke-width="0.9" stroke-opacity="0.8"/>
<line x1="310.29" y1="585.43" x2="313.29" y2="585.43" stroke="#222" stroke-width="1.1"/>
<rect x="309.49" y="601.50" width="4.60" height="37.50" fill="#000"/>
<line x1="319.49" y1="545.81" x2="319.49" y2="566.18" stroke="#EC0C62" stroke-width="0.9" stroke-opacity="0.75"/>
<line x1="317.99" y1="545.81" x2="320.99" y2="545.81" stroke="#B8507A" stroke-width="1.1"/>
<rect x="317.19" y="566.18" width="4.60" height="72.82" fill="#EC0C62"/>
<line x1="326.78" y1="607.47" x2="326.78" y2="613.69" stroke="#000" stroke-width="0.9" stroke-opacity="0.8"/>
<line x1="325.28" y1="607.47" x2="328.28" y2="607.47" stroke="#222" stroke-width="1.1"/>
<rect x="324.48" y="613.69" width="4.60" height="25.31" fill="#000"/>
<line x1="334.48" y1="581.89" x2="334.48" y2="589.70" stroke="#EC0C62" stroke-width="0.9" stroke-opacity="0.75"/>
<line x1="332.98" y1="581.89" x2="335.98" y2="581.89" stroke="#B8507A" stroke-width="1.1"/>
<rect x="332.18" y="589.70" width="4.60" height="49.30" fill="#EC0C62"/>
<line x1="341.77" y1="623.65" x2="341.77" y2="628.12" stroke="#000" stroke-width="0.9" stroke-opacity="0.8"/>
<line x1="340.27" y1="623.65" x2="343.27" y2="623.65" stroke="#222" stroke-width="1.1"/>
<rect x="339.47" y="628.12" width="4.60" height="10.88" fill="#000"/>
<line x1="349.47" y1="612.22" x2="349.47" y2="619.11" stroke="#EC0C62" stroke-width="0.9" stroke-opacity="0.75"/>
<line x1="347.97" y1="612.22" x2="350.97" y2="612.22" stroke="#B8507A" stroke-width="1.1"/>
<rect x="347.17" y="619.11" width="4.60" height="19.89" fill="#EC0C62"/>
<line x1="356.76" y1="635.09" x2="356.76" y2="637.05" stroke="#000" stroke-width="0.9" stroke-opacity="0.8"/>
<line x1="355.26" y1="635.09" x2="358.26" y2="635.09" stroke="#222" stroke-width="1.1"/>
<rect x="354.46" y="637.05" width="4.60" height="1.95" fill="#000"/>
<line x1="364.46" y1="609.43" x2="364.46" y2="620.87" stroke="#EC0C62" stroke-width="0.9" stroke-opacity="0.75"/>
<line x1="362.96" y1="609.43" x2="365.96" y2="609.43" stroke="#B8507A" stroke-width="1.1"/>
<rect x="362.16" y="620.87" width="4.60" height="18.13" fill="#EC0C62"/>
<line x1="371.75" y1="638.58" x2="371.75" y2="638.78" stroke="#000" stroke-width="0.9" stroke-opacity="0.8"/>
<line x1="370.25" y1="638.58" x2="373.25" y2="638.58" stroke="#222" stroke-width="1.1"/>
<rect x="369.45" y="638.78" width="4.60" height="0.60" fill="#000"/>
<line x1="379.45" y1="613.33" x2="379.45" y2="622.90" stroke="#EC0C62" stroke-width="0.9" stroke-opacity="0.75"/>
<line x1="377.95" y1="613.33" x2="380.95" y2="613.33" stroke="#B8507A" stroke-width="1.1"/>
<rect x="377.15" y="622.90" width="4.60" height="16.10" fill="#EC0C62"/>
<line x1="386.74" y1="613.33" x2="386.74" y2="620.87" stroke="#000" stroke-width="0.9" stroke-opacity="0.8"/>
<line x1="385.24" y1="613.33" x2="388.24" y2="613.33" stroke="#222" stroke-width="1.1"/>
<rect x="384.44" y="620.87" width="4.60" height="18.13" fill="#000"/>
<line x1="394.44" y1="630.99" x2="394.44" y2="633.31" stroke="#EC0C62" stroke-width="0.9" stroke-opacity="0.75"/>
<line x1="392.94" y1="630.99" x2="395.94" y2="630.99" stroke="#B8507A" stroke-width="1.1"/>
<rect x="392.14" y="633.31" width="4.60" height="5.69" fill="#EC0C62"/>
<line x1="401.73" y1="638.44" x2="401.73" y2="638.58" stroke="#000" stroke-width="0.9" stroke-opacity="0.8"/>
<line x1="400.23" y1="638.44" x2="403.23" y2="638.44" stroke="#222" stroke-width="1.1"/>
<rect x="399.43" y="638.58" width="4.60" height="0.60" fill="#000"/>
<rect x="407.13" y="638.86" width="4.60" height="0.60" fill="#EC0C62"/>
<line x1="416.72" y1="638.44" x2="416.72" y2="638.72" stroke="#000" stroke-width="0.9" stroke-opacity="0.8"/>
<line x1="415.22" y1="638.44" x2="418.22" y2="638.44" stroke="#222" stroke-width="1.1"/>
<rect x="414.42" y="638.72" width="4.60" height="0.60" fill="#000"/>
<line x1="424.42" y1="630.10" x2="424.42" y2="634.09" stroke="#EC0C62" stroke-width="0.9" stroke-opacity="0.75"/>
<line x1="422.92" y1="630.10" x2="425.92" y2="630.10" stroke="#B8507A" stroke-width="1.1"/>
<rect x="422.12" y="634.09" width="4.60" height="4.91" fill="#EC0C62"/>
<line x1="431.71" y1="632.02" x2="431.71" y2="634.82" stroke="#000" stroke-width="0.9" stroke-opacity="0.8"/>
<line x1="430.21" y1="632.02" x2="433.21" y2="632.02" stroke="#222" stroke-width="1.1"/>
<rect x="429.41" y="634.82" width="4.60" height="4.18" fill="#000"/>
<line x1="439.41" y1="638.44" x2="439.41" y2="638.58" stroke="#EC0C62" stroke-width="0.9" stroke-opacity="0.75"/>
<line x1="437.91" y1="638.44" x2="440.91" y2="638.44" stroke="#B8507A" stroke-width="1.1"/>
<rect x="437.11" y="638.58" width="4.60" height="0.60" fill="#EC0C62"/>
<line x1="446.70" y1="626.31" x2="446.70" y2="632.02" stroke="#000" stroke-width="0.9" stroke-opacity="0.8"/>
<line x1="445.20" y1="626.31" x2="448.20" y2="626.31" stroke="#222" stroke-width="1.1"/>
<rect x="444.40" y="632.02" width="4.60" height="6.97" fill="#000"/>
<line x1="454.40" y1="637.88" x2="454.40" y2="638.16" stroke="#EC0C62" stroke-width="0.9" stroke-opacity="0.75"/>
<line x1="452.90" y1="637.88" x2="455.90" y2="637.88" stroke="#B8507A" stroke-width="1.1"/>
<rect x="452.10" y="638.16" width="4.60" height="0.84" fill="#EC0C62"/>
<line x1="296.80" y1="639.00" x2="296.80" y2="641.20" stroke="#111" stroke-width="1"/>
<line x1="311.79" y1="639.00" x2="311.79" y2="641.20" stroke="#111" stroke-width="1"/>
<line x1="326.78" y1="639.00" x2="326.78" y2="641.20" stroke="#111" stroke-width="1"/>
<line x1="341.77" y1="639.00" x2="341.77" y2="641.20" stroke="#111" stroke-width="1"/>
<line x1="356.76" y1="639.00" x2="356.76" y2="641.20" stroke="#111" stroke-width="1"/>
<line x1="371.75" y1="639.00" x2="371.75" y2="641.20" stroke="#111" stroke-width="1"/>
<line x1="386.74" y1="639.00" x2="386.74" y2="641.20" stroke="#111" stroke-width="1"/>
<line x1="401.73" y1="639.00" x2="401.73" y2="641.20" stroke="#111" stroke-width="1"/>
<line x1="416.72" y1="639.00" x2="416.72" y2="641.20" stroke="#111" stroke-width="1"/>
<line x1="431.71" y1="639.00" x2="431.71" y2="641.20" stroke="#111" stroke-width="1"/>
<line x1="446.70" y1="639.00" x2="446.70" y2="641.20" stroke="#111" stroke-width="1"/>
<text transform="translate(298.10,647.0) rotate(-45)" font-size="5.45" font-weight="bold" text-anchor="end" fill="#111" stroke="#111" stroke-width="0.12">Granzyme B</text>
<text transform="translate(313.09,647.0) rotate(-45)" font-size="5.45" font-weight="bold" text-anchor="end" fill="#111" stroke="#111" stroke-width="0.12">IFN-γ</text>
<text transform="translate(328.08,647.0) rotate(-45)" font-size="5.45" font-weight="bold" text-anchor="end" fill="#111" stroke="#111" stroke-width="0.12">MIP-1a</text>
<text transform="translate(343.07,647.0) rotate(-45)" font-size="5.45" font-weight="bold" text-anchor="end" fill="#111" stroke="#111" stroke-width="0.12">TNF-α</text>
<text transform="translate(358.06,647.0) rotate(-45)" font-size="5.45" font-weight="bold" text-anchor="end" fill="#111" stroke="#111" stroke-width="0.12">GM-CSF</text>
<text transform="translate(373.05,647.0) rotate(-45)" font-size="5.45" font-weight="bold" text-anchor="end" fill="#111" stroke="#111" stroke-width="0.12">IP-10</text>
<text transform="translate(388.04,647.0) rotate(-45)" font-size="5.45" font-weight="bold" text-anchor="end" fill="#111" stroke="#111" stroke-width="0.12">IL-8</text>
<text transform="translate(403.03,647.0) rotate(-45)" font-size="5.45" font-weight="bold" text-anchor="end" fill="#111" stroke="#111" stroke-width="0.12">IL-10</text>
<text transform="translate(418.02,647.0) rotate(-45)" font-size="5.45" font-weight="bold" text-anchor="end" fill="#111" stroke="#111" stroke-width="0.12">IL-2</text>
<text transform="translate(433.01,647.0) rotate(-45)" font-size="5.45" font-weight="bold" text-anchor="end" fill="#111" stroke="#111" stroke-width="0.12">IL-6</text>
<text transform="translate(448.00,647.0) rotate(-45)" font-size="5.45" font-weight="bold" text-anchor="end" fill="#111" stroke="#111" stroke-width="0.12">MCP-1</text>
<line x1="429.40" y1="554.70" x2="441.30" y2="554.70" stroke="#000" stroke-width="2.4"/>
<line x1="429.40" y1="569.60" x2="441.30" y2="569.60" stroke="#EC0C62" stroke-width="2.4"/>
<text x="448.5" y="557.4" font-size="6.3" font-weight="normal" text-anchor="start" fill="#111" textLength="9.5" lengthAdjust="spacingAndGlyphs">IL-2</text>
<text x="448.4" y="572.3" font-size="6.3" font-weight="normal" text-anchor="start" fill="#111" textLength="18.0" lengthAdjust="spacingAndGlyphs">IL7+15</text>
<rect x="428.8" y="575.8" width="52" height="21.7" fill="#fff" stroke="#000" stroke-width="1.3"/>
<text x="430.8" y="582.9" font-size="4.5" font-weight="normal" text-anchor="start" fill="#111" textLength="47.1" lengthAdjust="spacingAndGlyphs">*all differences in the</text>
<text x="430.8" y="589.0" font-size="4.5" font-weight="normal" text-anchor="start" fill="#111" textLength="41.5" lengthAdjust="spacingAndGlyphs">below cytokines are</text>
<text x="430.8" y="594.6" font-size="4.5" font-weight="normal" text-anchor="start" fill="#111" textLength="47.1" lengthAdjust="spacingAndGlyphs">statistically significant</text>
</svg>
</body></html>
